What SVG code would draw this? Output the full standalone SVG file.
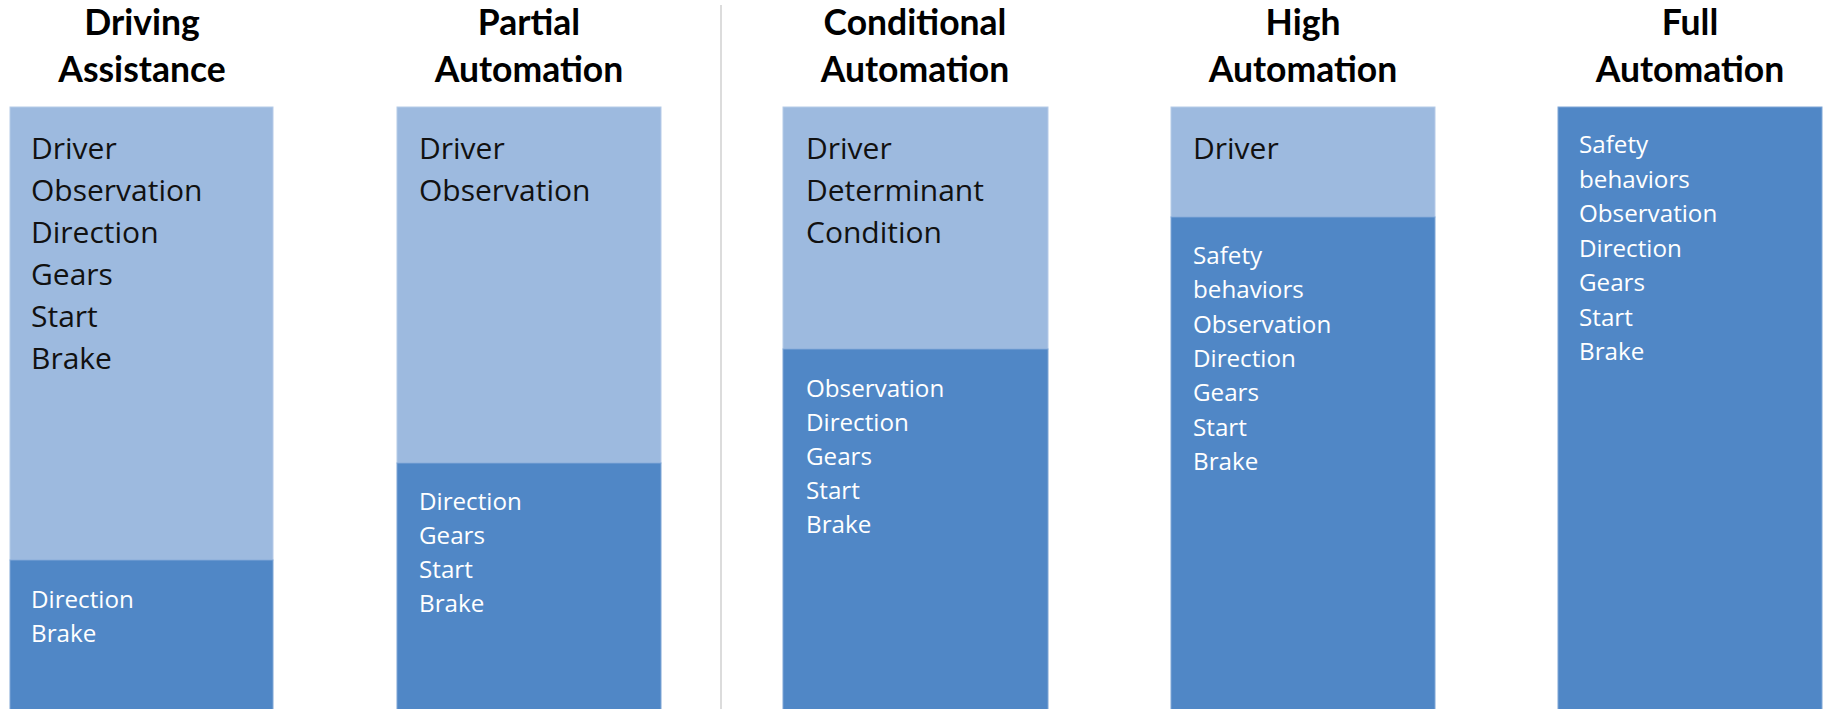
<svg xmlns="http://www.w3.org/2000/svg" width="1825" height="709" viewBox="0 0 1825 709">
<style>
.bg{fill:#ffffff}
.lt{fill:#9dbadf;stroke:#b6cbe8;stroke-width:1}
.dk{fill:#5087c6;stroke:#7fa6d6;stroke-width:1}
.ttl{font-family:Lato,"Open Sans","Liberation Sans",sans-serif;font-weight:bold;font-size:35.5px;fill:#000;text-anchor:middle}
.bt{font-family:"Open Sans","Liberation Sans",sans-serif;font-size:30px;fill:#111}
.wt{font-family:"Open Sans","Liberation Sans",sans-serif;font-size:24.2px;fill:#ffffff}
.sep{stroke:#dcdcdc;stroke-width:2}
</style>
<rect class="bg" x="0" y="0" width="1825" height="709"/>
<g id="connectors">
<line class="sep" x1="721" y1="5" x2="721" y2="709"/>
</g>
<g id="col1">
<text class="ttl" x="142" y="35">Driving</text>
<text class="ttl" x="142" y="82">Assistance</text>
<rect class="lt" x="10" y="107" width="263" height="453"/>
<rect class="dk" x="10" y="560" width="263" height="152"/>
<text class="bt" x="31" y="159">Driver</text>
<text class="bt" x="31" y="201">Observation</text>
<text class="bt" x="31" y="243">Direction</text>
<text class="bt" x="31" y="285">Gears</text>
<text class="bt" x="31" y="327">Start</text>
<text class="bt" x="31" y="369">Brake</text>
<text class="wt" x="31" y="608">Direction</text>
<text class="wt" x="31" y="642">Brake</text>
</g>
<g id="col2">
<text class="ttl" x="529" y="35">Partial</text>
<text class="ttl" x="529" y="82">Automation</text>
<rect class="lt" x="397" y="107" width="264" height="356"/>
<rect class="dk" x="397" y="463" width="264" height="249"/>
<text class="bt" x="419" y="159">Driver</text>
<text class="bt" x="419" y="201">Observation</text>
<text class="wt" x="419" y="510">Direction</text>
<text class="wt" x="419" y="544">Gears</text>
<text class="wt" x="419" y="578">Start</text>
<text class="wt" x="419" y="612">Brake</text>
</g>
<g id="col3">
<text class="ttl" x="915" y="35">Conditional</text>
<text class="ttl" x="915" y="82">Automation</text>
<rect class="lt" x="783" y="107" width="265" height="242"/>
<rect class="dk" x="783" y="349" width="265" height="363"/>
<text class="bt" x="806" y="159">Driver</text>
<text class="bt" x="806" y="201">Determinant</text>
<text class="bt" x="806" y="243">Condition</text>
<text class="wt" x="806" y="397">Observation</text>
<text class="wt" x="806" y="431">Direction</text>
<text class="wt" x="806" y="465">Gears</text>
<text class="wt" x="806" y="499">Start</text>
<text class="wt" x="806" y="533">Brake</text>
</g>
<g id="col4">
<text class="ttl" x="1303" y="35">High</text>
<text class="ttl" x="1303" y="82">Automation</text>
<rect class="lt" x="1171" y="107" width="264" height="110"/>
<rect class="dk" x="1171" y="217" width="264" height="495"/>
<text class="bt" x="1193" y="159">Driver</text>
<text class="wt" x="1193" y="264">Safety</text>
<text class="wt" x="1193" y="298">behaviors</text>
<text class="wt" x="1193" y="333">Observation</text>
<text class="wt" x="1193" y="367">Direction</text>
<text class="wt" x="1193" y="401">Gears</text>
<text class="wt" x="1193" y="436">Start</text>
<text class="wt" x="1193" y="470">Brake</text>
</g>
<g id="col5">
<text class="ttl" x="1690" y="35">Full</text>
<text class="ttl" x="1690" y="82">Automation</text>
<rect class="dk" x="1558" y="107" width="264" height="605"/>
<text class="wt" x="1579" y="153">Safety</text>
<text class="wt" x="1579" y="188">behaviors</text>
<text class="wt" x="1579" y="222">Observation</text>
<text class="wt" x="1579" y="257">Direction</text>
<text class="wt" x="1579" y="291">Gears</text>
<text class="wt" x="1579" y="326">Start</text>
<text class="wt" x="1579" y="360">Brake</text>
</g>
</svg>
